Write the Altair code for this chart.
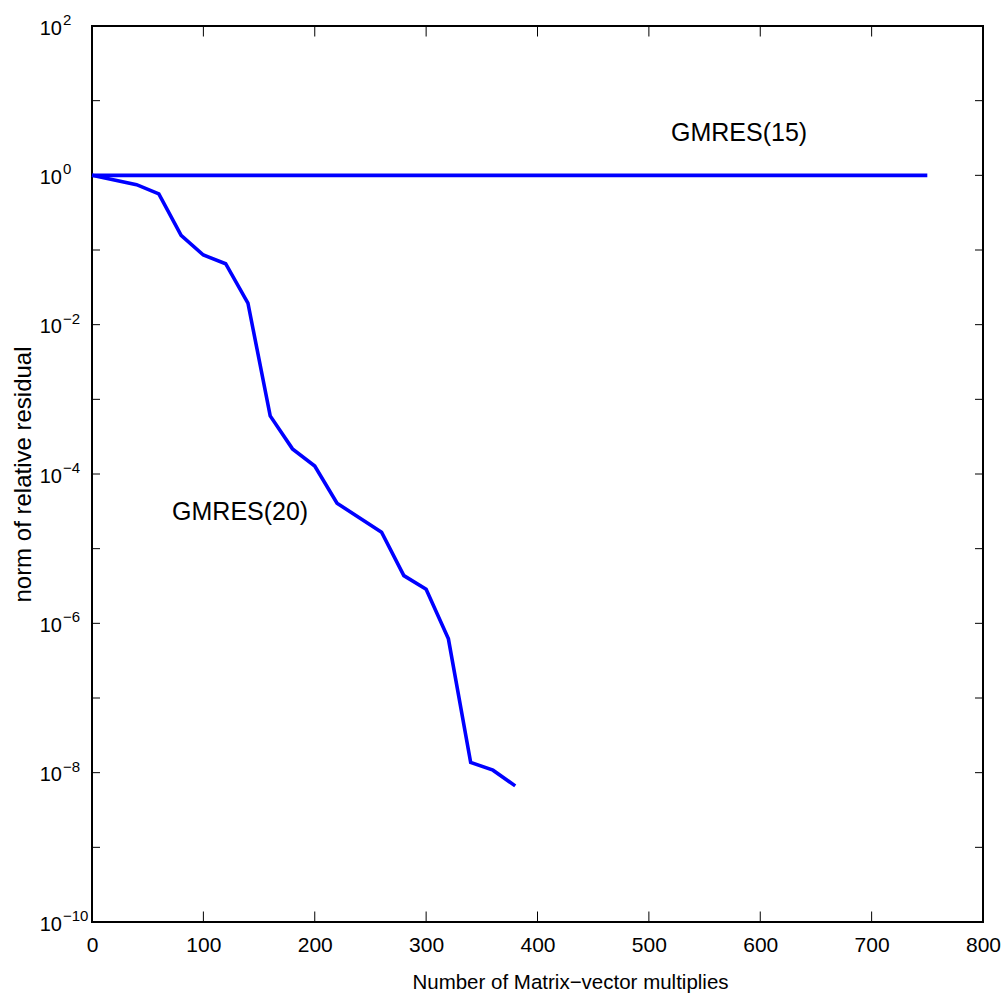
import altair as alt
import pandas as pd

# ---- data ----
x15 = [0, 750]
r15 = [1.0, 1.0]

x20 = [0, 40, 60, 80, 100, 120, 140, 160, 180, 200, 220, 260, 280, 300, 320, 340, 360, 380]
r20 = [1.0, 0.75, 0.563, 0.157, 0.0857, 0.0655, 0.0195, 6.0e-4, 2.17e-4, 1.28e-4,
       4.06e-5, 1.66e-5, 4.35e-6, 2.86e-6, 6.2e-7, 1.37e-8, 1.08e-8, 6.65e-9]

x_ticks = [0, 100, 200, 300, 400, 500, 600, 700, 800]
x_inner_ticks = [100, 200, 300, 400, 500, 600, 700]
y_label_exps = [-10, -8, -6, -4, -2, 0, 2]
y_tick_exps = list(range(-10, 3))

label_names = ["GMRES(15)", "GMRES(20)"]
label_x = [581, 133]
label_y = [3.66, 3.1e-5]

# ---- tables ----
lines_df = pd.DataFrame(
    {"x": x15 + x20, "r": r15 + r20,
     "series": ["GMRES(15)"] * len(x15) + ["GMRES(20)"] * len(x20)}
)
labels_df = pd.DataFrame({"x": label_x, "r": label_y, "name": label_names})
ylab_df = pd.DataFrame({
    "v": [10.0 ** e for e in y_label_exps],
    "base": ["10"] * len(y_label_exps),
    "exp": [("\u2212" + str(-e)) if e < 0 else str(e) for e in y_label_exps],
})
ytick_df = pd.DataFrame({"v": [10.0 ** e for e in y_tick_exps]})
xtick_df = pd.DataFrame({"x": x_inner_ticks})

W, H = 891, 896
FONT = "Liberation Sans, Arial, Helvetica, sans-serif"
BLUE = "#0000ff"

xs = alt.Scale(domain=[0, 800], nice=False, zero=False)
ys = alt.Scale(type="log", domain=[1e-10, 1e2], nice=False)

xaxis = alt.Axis(
    values=x_ticks, ticks=False, domain=False, grid=False,
    labelFont=FONT, labelFontSize=21, labelColor="black", labelPadding=12,
    labelFlush=False, labelOverlap=False,
    title="Number of Matrix\u2212vector multiplies",
    titleFont=FONT, titleFontSize=20.5, titleFontWeight="normal", titleColor="black",
    titleX=478, titleY=66, titleAlign="center", titleBaseline="alphabetic",
)
yaxis = alt.Axis(
    labels=False, ticks=False, domain=False, grid=False,
    title="norm of relative residual",
    titleFont=FONT, titleFontSize=24, titleFontWeight="normal", titleColor="black",
    titleAngle=270, titleX=-62, titleY=448, titleAlign="center", titleBaseline="alphabetic",
)

lines = alt.Chart(lines_df).mark_line(color=BLUE, strokeWidth=3.6).encode(
    x=alt.X("x:Q", scale=xs, axis=xaxis),
    y=alt.Y("r:Q", scale=ys, axis=yaxis),
    detail="series:N",
)

labels = alt.Chart(labels_df).mark_text(
    font=FONT, fontSize=25, color="black", align="center", baseline="middle"
).encode(
    x=alt.X("x:Q", scale=xs, axis=xaxis),
    y=alt.Y("r:Q", scale=ys, axis=yaxis),
    text="name:N",
)

ybase = alt.Chart(ylab_df).mark_text(
    font=FONT, fontSize=20, color="black", align="right", baseline="alphabetic", dy=8.5
).encode(
    x=alt.value(-30),
    y=alt.Y("v:Q", scale=ys, axis=yaxis),
    text="base:N",
)
yexp = alt.Chart(ylab_df).mark_text(
    font=FONT, fontSize=15, color="black", align="left", baseline="alphabetic", dy=-1
).encode(
    x=alt.value(-29),
    y=alt.Y("v:Q", scale=ys, axis=yaxis),
    text="exp:N",
)

tick_left = alt.Chart(ytick_df).mark_rule(color="black", strokeWidth=1).encode(
    x=alt.value(0), x2=alt.value(8), y=alt.Y("v:Q", scale=ys, axis=yaxis)
)
tick_right = alt.Chart(ytick_df).mark_rule(color="black", strokeWidth=1).encode(
    x=alt.value(W - 8), x2=alt.value(W), y=alt.Y("v:Q", scale=ys, axis=yaxis)
)
tick_top = alt.Chart(xtick_df).mark_rule(color="black", strokeWidth=1).encode(
    x=alt.X("x:Q", scale=xs, axis=xaxis), y=alt.value(0), y2=alt.value(10.5)
)
tick_bottom = alt.Chart(xtick_df).mark_rule(color="black", strokeWidth=1).encode(
    x=alt.X("x:Q", scale=xs, axis=xaxis), y=alt.value(H - 10.5), y2=alt.value(H)
)

chart = alt.layer(
    tick_left, tick_right, tick_top, tick_bottom, lines, labels, ybase, yexp
).properties(
    width=W, height=H,
    autosize=alt.AutoSizeParams(type="none"),
    padding={"left": 92, "top": 26, "right": 25, "bottom": 72},
    background="white",
).configure_view(
    stroke="black", strokeWidth=2
)

chart.save("out.html", embed_options={"renderer": "svg", "actions": False})
